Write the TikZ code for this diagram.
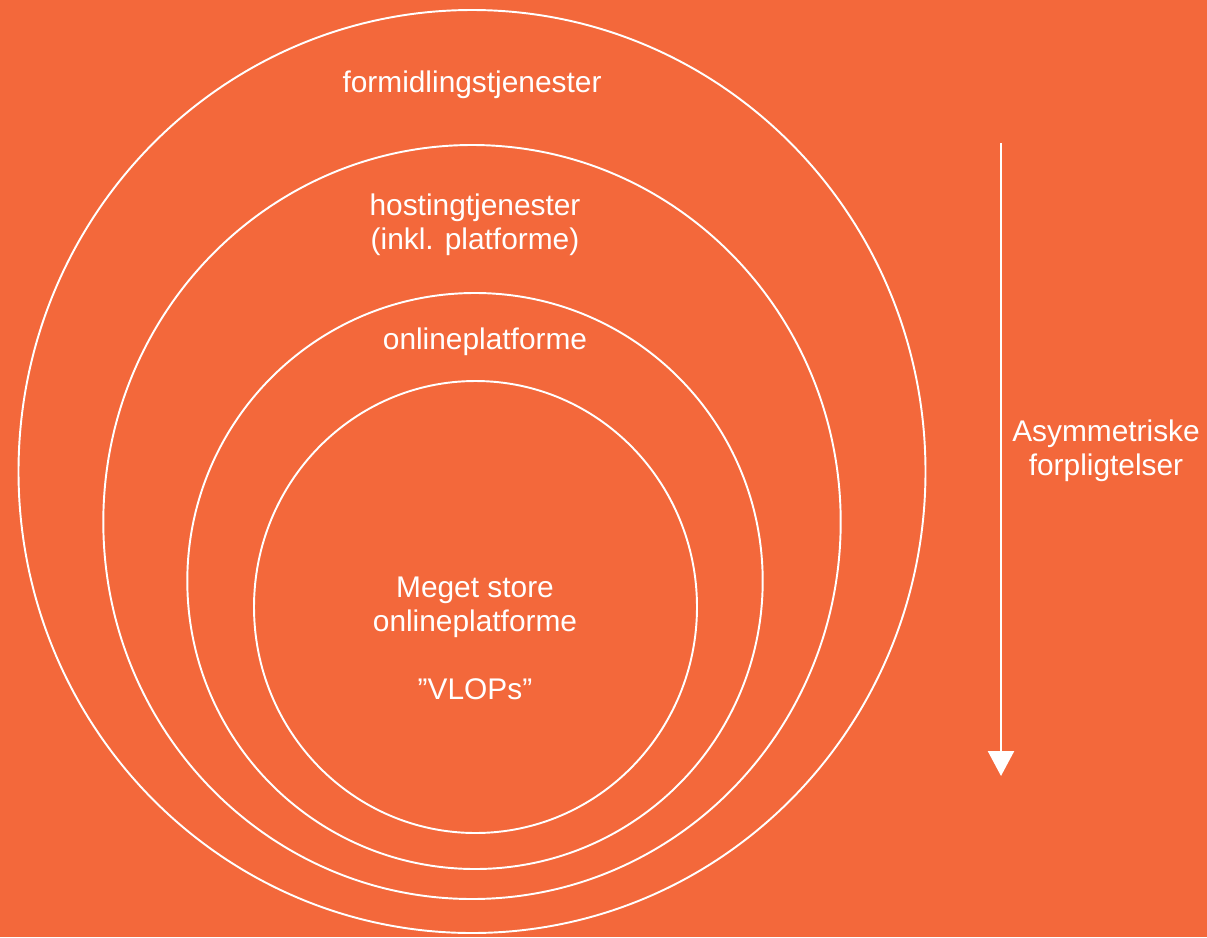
\documentclass[tikz,border=0pt]{standalone}
\usepackage{fontspec}
\setmainfont{Liberation Sans}
\usepackage{tikz}
\usetikzlibrary{arrows.meta}
\definecolor{dsaorange}{RGB}{243,104,59}

\begin{document}
\begin{tikzpicture}[x=0.02cm, y=-0.02cm,
	ring/.style={draw=white, line width=1.1pt},
	label/.style={text=white, align=center, inner sep=0pt,
		font=\fontsize{17}{19.3}\selectfont}]
	\fill [dsaorange] (0,0) rectangle (1207,937);
	\useasboundingbox (0,0) rectangle (1207,937);
	
	% nested services
	\draw [ring] (472,471.5) ellipse [x radius=453.5, y radius=461.5];
	\draw [ring] (472,522) ellipse [x radius=368.7, y radius=377];
	\draw [ring] (475,581) ellipse [x radius=287.7, y radius=288];
	\draw [ring] (475.5,607) ellipse [x radius=221.5, y radius=226];
	
	\node [label] (formid) at (472,85) {formidlingstjenester};
	\node [label] (hosting) at (475,225) {hostingtjenester\\(inkl. platforme)};
	\node [label] (online) at (485,342) {onlineplatforme};
	\node [label] (vlop) at (475,638) {Meget store\\onlineplatforme\\[19.3pt]”VLOPs”};
	
	% obligations arrow
	\coordinate (top) at (1001,143);
	\coordinate (tip) at (1001,776);
	\draw [white, line width=1.4pt, -{Triangle[width=0.52cm,length=0.5cm]}] (top) -- (tip);
	\node [label] (asym) at (1106,451) {Asymmetriske\\forpligtelser};
\end{tikzpicture}
\end{document}
